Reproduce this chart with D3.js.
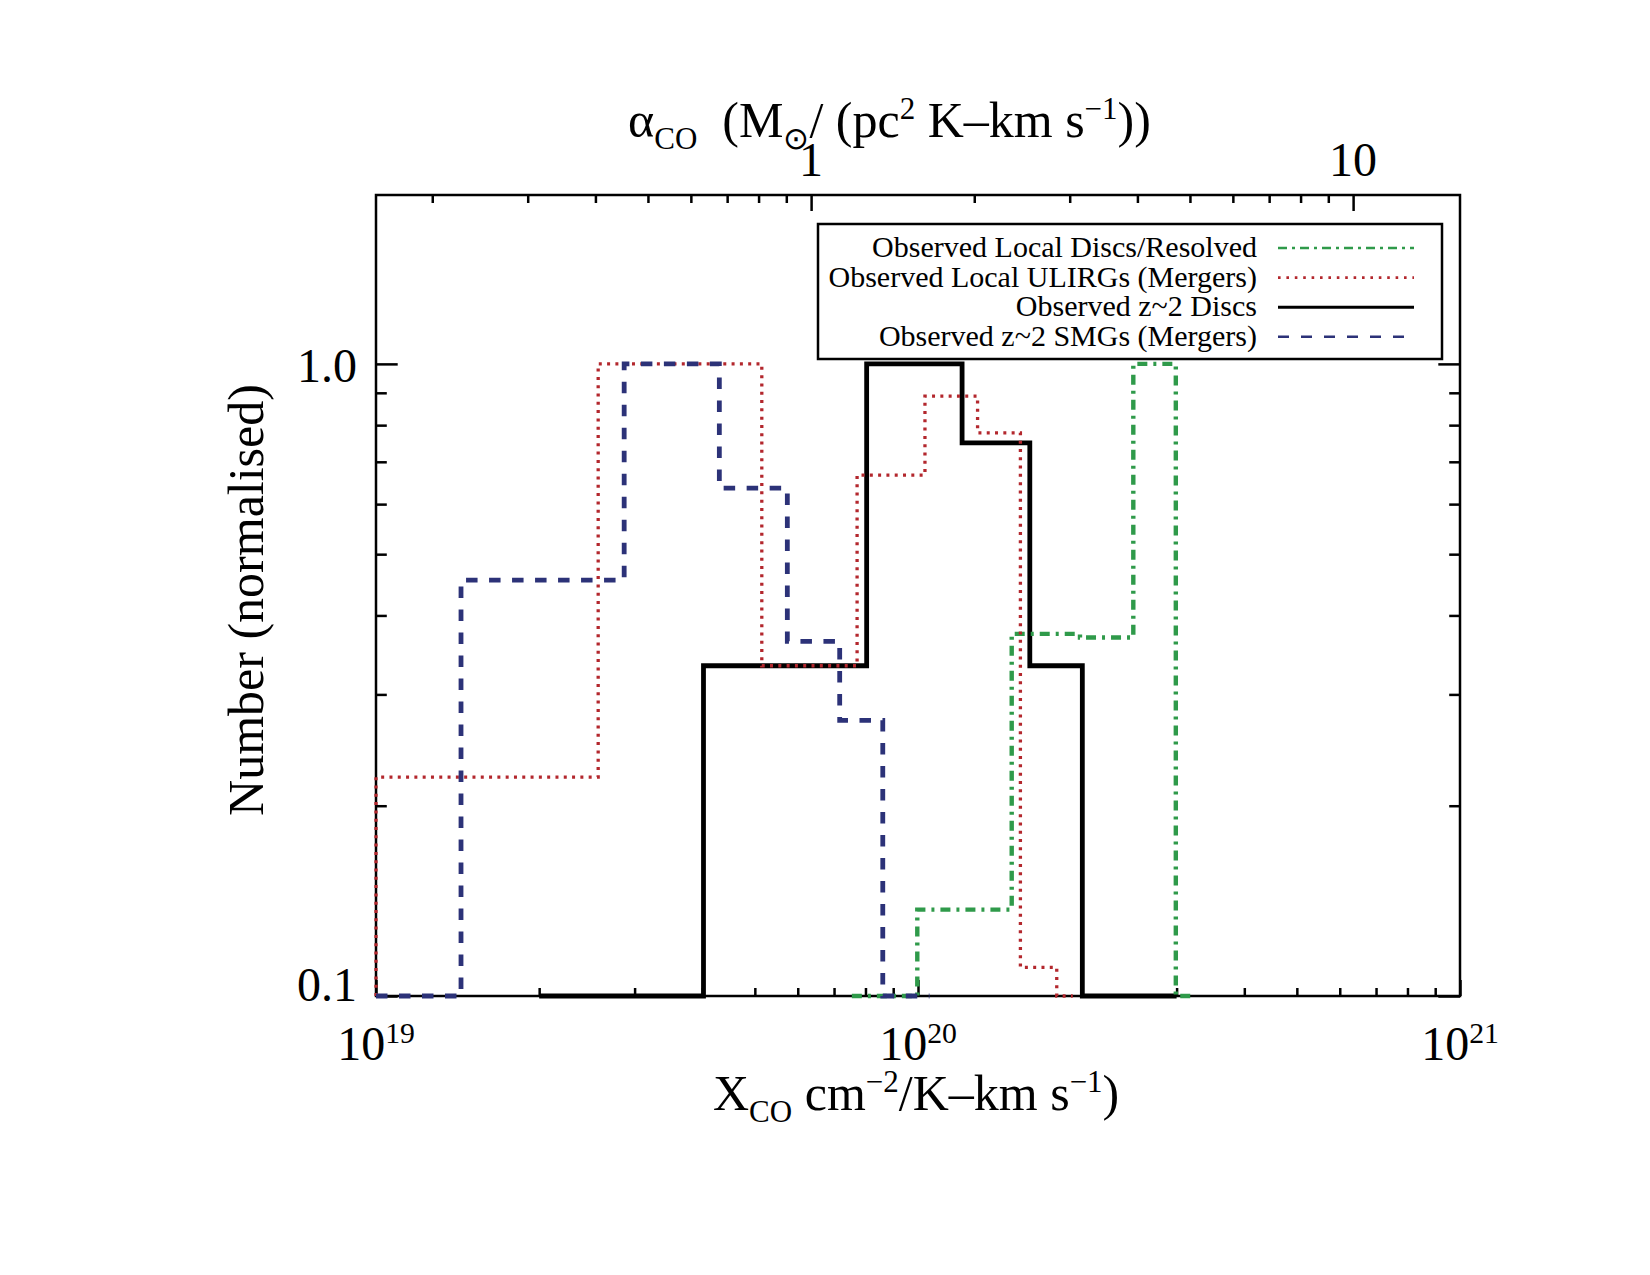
<!DOCTYPE html>
<html>
<head>
<meta charset="utf-8">
<script src="https://cdn.jsdelivr.net/npm/d3@7"></script>
<style>
body{margin:0;background:#fff}
svg text{font-family:"Liberation Serif","Times New Roman",serif;fill:#000;white-space:pre}
</style>
</head>
<body>
<div id="chartDiv"></div>
<script>
//---histogram bin edges (X_CO) + normalised heights---
var redEdges=[1.0e19,2.57e19,5.15e19,7.72e19,1.03e20,1.288e20,1.545e20,1.803e20,1.93e20]
var redVals=[0.222,1.0,0.333,0.667,0.889,0.778,0.111,0]

var blueEdges=[1.0e19,1.435e19,2.87e19,4.30e19,5.74e19,7.17e19,8.61e19,1.05e20]
var blueVals=[0,0.455,1.0,0.636,0.364,0.273,0]

var blackEdges=[2.0e19,4.02e19,8.04e19,1.206e20,1.608e20,2.01e20,3.0e20]
var blackVals=[0,0.333,1.0,0.75,0.333,0]

var greenEdges=[7.55e19,9.97e19,1.489e20,1.99e20,2.496e20,2.99e20,3.22e20]
var greenVals=[0,0.137,0.374,0.369,1.0,0]

var legendNames=["Observed Local Discs/Resolved","Observed Local ULIRGs (Mergers)","Observed z~2 Discs","Observed z~2 SMGs (Mergers)"]

//---ticks---
var xMajorTicks=[1e19,1e20,1e21]
var xMinorTicks=[2e19,3e19,4e19,5e19,6e19,7e19,8e19,9e19,2e20,3e20,4e20,5e20,6e20,7e20,8e20,9e20]
var xTickExp=["19","20","21"]
var yMajorTicks=[0.1,1.0]
var yMinorTicks=[0.2,0.3,0.4,0.5,0.6,0.7,0.8,0.9]
var yTickLabels=["0.1","1.0"]
var alphaMajorTicks=[1,10]
var alphaMinorTicks=[0.2,0.3,0.4,0.5,0.6,0.7,0.8,0.9,2,3,4,5,6,7,8,9]
var alphaTickLabels=["1","10"]
var XperAlpha=6.35e19 //---X_CO = 6.35e19 * alpha_CO---

//---frame---
var Left=376,Right=1460,Top=195,Bottom=996
var Width=1650,Height=1275

var ChartSVG=d3.select("#chartDiv").append("svg")
  .attr("width",Width).attr("height",Height)
  .attr("viewBox","0 0 "+Width+" "+Height)

ChartSVG.append("rect").attr("width",Width).attr("height",Height).attr("fill","white")

var X=d3.scaleLog().domain([1e19,1e21]).range([Left,Right])
var Y=d3.scaleLog().domain([0.1,1.85]).range([Bottom,Top])
var A=d3.scaleLog().domain([1e19/XperAlpha,1e21/XperAlpha]).range([Left,Right])

//---inward ticks on all four sides---
function tickAxis(gen,scale,vals,len,tr)
{
  var g=ChartSVG.append("g").attr("transform",tr)
  .call(gen(scale).tickValues(vals).tickSize(-len).tickSizeOuter(0).tickFormat(""))
  g.select(".domain").remove()
  g.selectAll("line").attr("stroke","#000").attr("stroke-width",2.5)
}
tickAxis(d3.axisBottom,X,xMajorTicks,16,"translate(0,"+Bottom+")")
tickAxis(d3.axisBottom,X,xMinorTicks,8,"translate(0,"+Bottom+")")
tickAxis(d3.axisTop,A,alphaMajorTicks,16,"translate(0,"+Top+")")
tickAxis(d3.axisTop,A,alphaMinorTicks,8,"translate(0,"+Top+")")
tickAxis(d3.axisLeft,Y,yMajorTicks,21.7,"translate("+Left+",0)")
tickAxis(d3.axisLeft,Y,yMinorTicks,10.8,"translate("+Left+",0)")
tickAxis(d3.axisRight,Y,yMajorTicks,21.7,"translate("+Right+",0)")
tickAxis(d3.axisRight,Y,yMinorTicks,10.8,"translate("+Right+",0)")

ChartSVG.append("rect")
  .attr("x",Left).attr("y",Top)
  .attr("width",Right-Left).attr("height",Bottom-Top)
  .attr("fill","none").attr("stroke","#000").attr("stroke-width",2.5)

//---text with sub/superscripts---
function richText(txt,parts,size,drop,rise)
{
  var off=0
  parts.forEach(function(p)
  {
    var target=p[1]=="sub"?drop:(p[1]=="sup"?-rise:0)
    txt.append("tspan")
    .attr("dy",target-off)
    .style("font-size",(p[1]=="n"?size:size*0.62)+"px")
    .text(p[0])
    off=target
  })
  return txt
}

//---tick labels---
xMajorTicks.forEach(function(v,i)
{
  var t=ChartSVG.append("text").attr("x",X(v)).attr("y",1060).attr("text-anchor","middle")
  richText(t,[["10","n"],[xTickExp[i],"sup"]],48,0,17)
})
yMajorTicks.forEach(function(v,i)
{
  ChartSVG.append("text")
  .attr("x",Left-19).attr("y",i==0?1001:382)
  .attr("text-anchor","end").style("font-size","48px")
  .text(yTickLabels[i])
})
alphaMajorTicks.forEach(function(v,i)
{
  ChartSVG.append("text")
  .attr("x",A(v)).attr("y",176)
  .attr("text-anchor","middle").style("font-size","48px")
  .text(alphaTickLabels[i])
})

//---axis titles---
richText(ChartSVG.append("text").attr("x",713).attr("y",1110),
  [["X","n"],["CO","sub"],[" cm","n"],["\u22122","sup"],["/K\u2013km s","n"],["\u22121","sup"],[")","n"]],50,12,18)

richText(ChartSVG.append("text").attr("x",628).attr("y",137),
  [["\u03b1","n"],["CO","sub"],["  (M","n"],["\u2299","sub"],["/ (pc","n"],["2","sup"],[" K\u2013km s","n"],["\u22121","sup"],["))","n"]],50,12,18)

ChartSVG.append("text")
  .attr("transform","translate(263,600) rotate(-90)")
  .attr("text-anchor","middle").style("font-size","50px")
  .text("Number (normalised)")

//---histograms, zero bins sit on the bottom axis---
var series=[
  {edges:blackEdges,vals:blackVals,color:"#000000",width:4.8,dash:null,legendDash:null,legendWidth:3},
  {edges:greenEdges,vals:greenVals,color:"#2f9a4a",width:4.4,dash:"10 6 3 6",legendDash:"9 5 3 5",legendWidth:2.6},
  {edges:redEdges,vals:redVals,color:"#b3272d",width:3.3,dash:"3 5.3",legendDash:"2.6 5.8",legendWidth:2.6},
  {edges:blueEdges,vals:blueVals,color:"#2c3278",width:4.8,dash:"11.5 11.5",legendDash:"11 12",legendWidth:2.6}
]
function yv(v){ return v>0?Y(v):Bottom }

var HistG=ChartSVG.append("g").attr("id","histG")
series.forEach(function(s)
{
  var pts=[[X(s.edges[0]),Bottom]]
  s.vals.forEach(function(v,i)
  {
    pts.push([X(s.edges[i]),yv(v)])
    pts.push([X(s.edges[i+1]),yv(v)])
  })
  pts.push([X(s.edges[s.edges.length-1]),Bottom])
  HistG.append("path")
  .attr("d",d3.line()(pts))
  .attr("fill","none")
  .attr("stroke",s.color)
  .attr("stroke-width",s.width)
  .attr("stroke-dasharray",s.dash)
  .attr("stroke-linejoin","miter")
})

//---legend---
var legendOrder=[1,2,0,3]
var LegendG=ChartSVG.append("g").attr("id","legendG")
LegendG.append("rect")
  .attr("x",818).attr("y",224).attr("width",624).attr("height",135)
  .attr("fill","white").attr("stroke","#000").attr("stroke-width",2.5)
legendOrder.forEach(function(k,i)
{
  var s=series[k],cy=248+i*29.6
  LegendG.append("text")
  .attr("x",1257).attr("y",cy+9)
  .attr("text-anchor","end").style("font-size","30px")
  .text(legendNames[i])
  LegendG.append("line")
  .attr("x1",1278).attr("x2",1414).attr("y1",cy).attr("y2",cy)
  .attr("stroke",s.color).attr("stroke-width",s.legendWidth)
  .attr("stroke-dasharray",s.legendDash)
})
</script>
</body>
</html>
